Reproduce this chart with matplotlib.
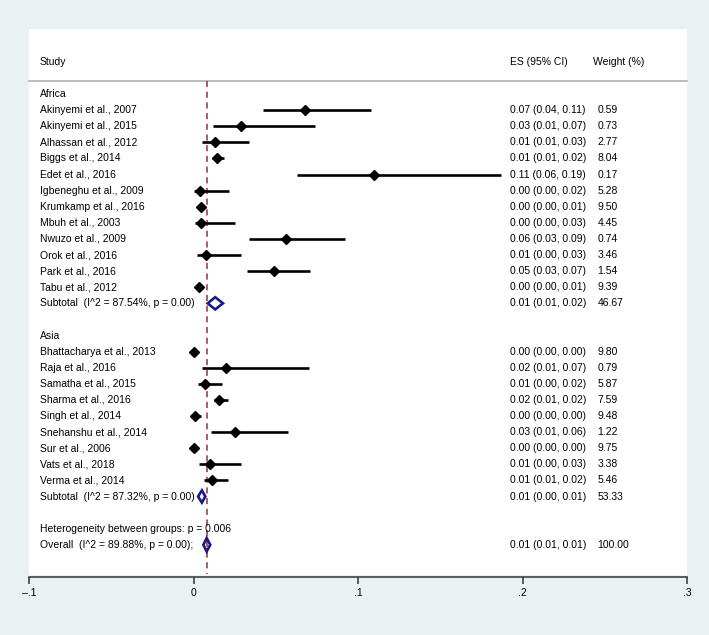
import matplotlib
matplotlib.use("Agg")
import matplotlib.pyplot as plt
from matplotlib.patches import Polygon
import matplotlib.transforms as mtransforms

plt.rcParams['font.family'] = ['Liberation Sans', 'DejaVu Sans']

# study level data
africa_studies = ["Akinyemi et al., 2007", "Akinyemi et al., 2015", "Alhassan et al., 2012",
                  "Biggs et al., 2014", "Edet et al., 2016", "Igbeneghu et al., 2009",
                  "Krumkamp et al., 2016", "Mbuh et al., 2003", "Nwuzo et al., 2009",
                  "Orok et al., 2016", "Park et al., 2016", "Tabu et al., 2012"]
africa_es = [0.0678, 0.0290, 0.0132, 0.0145, 0.1100, 0.0037, 0.0047, 0.0043, 0.0560, 0.0077, 0.0490, 0.0031]
africa_lo = [0.0420, 0.0117, 0.0051, 0.0112, 0.0627, 0.0006, 0.0032, 0.0008, 0.0338, 0.0020, 0.0327, 0.0015]
africa_hi = [0.1080, 0.0740, 0.0336, 0.0185, 0.1870, 0.0216, 0.0060, 0.0252, 0.0918, 0.0287, 0.0709, 0.0052]
africa_w = [0.59, 0.73, 2.77, 8.04, 0.17, 5.28, 9.50, 4.45, 0.74, 3.46, 1.54, 9.39]

asia_studies = ["Bhattacharya et al., 2013", "Raja et al., 2016", "Samatha et al., 2015",
                "Sharma et al., 2016", "Singh et al., 2014", "Snehanshu et al., 2014",
                "Sur et al., 2006", "Vats et al., 2018", "Verma et al., 2014"]
asia_es = [0.0002, 0.0200, 0.0069, 0.0155, 0.0008, 0.0252, 0.0004, 0.0098, 0.0112]
asia_lo = [0.0000, 0.0053, 0.0029, 0.0122, 0.0003, 0.0108, 0.0000, 0.0032, 0.0061]
asia_hi = [0.0006, 0.0700, 0.0173, 0.0210, 0.0048, 0.0572, 0.0009, 0.0287, 0.0210]
asia_w = [9.80, 0.79, 5.87, 7.59, 9.48, 1.22, 9.75, 3.38, 5.46]

# pooled estimates
group_names = ["Africa", "Asia"]
sub_es = [0.0132, 0.0051]
sub_lo = [0.0086, 0.0028]
sub_hi = [0.0179, 0.0072]
sub_w = [46.67, 53.33]
sub_i2 = [87.54, 87.32]
overall_es, overall_lo, overall_hi = 0.0080, 0.0060, 0.0102
overall_i2 = 89.88
het_p = "0.006"
xticks = [-0.1, 0, 0.1, 0.2, 0.3]
xtick_labels = ["\u2013.1", "0", ".1", ".2", ".3"]

BG = "#e9f1f3"
NAVY = "#1a1a86"
RED = "#9b2f35"
FS = 7.5

fig = plt.figure(figsize=(7.09, 6.35), dpi=100, facecolor=BG)
ax = fig.add_axes([29 / 709, 58 / 635, 658 / 709, 548 / 635])
ax.set_facecolor(BG)
ax.set_xlim(-0.1, 0.3)
ax.set_ylim(30.0, -4.04)
ax.axhspan(-4.04, 29.8, color="white", zorder=0)

tr = mtransforms.blended_transform_factory(ax.transAxes, ax.transData)
x_study, x_es, x_w, x_wh = 0.0167, 0.731, 0.864, 0.857


def es_text(e, l, h):
    return f"{e:.2f} ({l:.2f}, {h:.2f})"


def diamond(center, lo, hi, row, half=0.38):
    ax.add_patch(Polygon([(lo, row), (center, row - half), (hi, row), (center, row + half)],
                         closed=True, fill=False, edgecolor=NAVY, linewidth=1.9, zorder=4))


# header
ax.text(x_study, -2, "Study", transform=tr, fontsize=FS, va="center")
ax.text(x_es, -2, "ES (95% CI)", transform=tr, fontsize=FS, va="center")
ax.text(x_wh, -2, "Weight (%)", transform=tr, fontsize=FS, va="center")
ax.plot([0, 1], [-0.8, -0.8], transform=tr, color="#a9a9a9", lw=1.1, clip_on=False)

groups = [(africa_studies, africa_es, africa_lo, africa_hi, africa_w),
          (asia_studies, asia_es, asia_lo, asia_hi, asia_w)]
row = 0
for g, (names, es, lo, hi, w) in enumerate(groups):
    ax.text(x_study, row, group_names[g], transform=tr, fontsize=FS, va="center")
    row += 1
    for i in range(len(names)):
        ax.plot([lo[i], hi[i]], [row, row], color="black", lw=1.9, solid_capstyle="butt", zorder=3)
        ax.plot(es[i], row, marker="D", color="black", markersize=4.6, zorder=4)
        ax.text(x_study, row, names[i], transform=tr, fontsize=FS, va="center")
        ax.text(x_es, row, es_text(es[i], lo[i], hi[i]), transform=tr, fontsize=FS, va="center")
        ax.text(x_w, row, f"{w[i]:.2f}", transform=tr, fontsize=FS, va="center")
        row += 1
    ax.text(x_study, row, f"Subtotal  (I^2 = {sub_i2[g]:.2f}%, p = 0.00)", transform=tr,
            fontsize=FS, va="center")
    diamond(sub_es[g], sub_lo[g], sub_hi[g], row)
    ax.text(x_es, row, es_text(sub_es[g], sub_lo[g], sub_hi[g]), transform=tr, fontsize=FS, va="center")
    ax.text(x_w, row, f"{sub_w[g]:.2f}", transform=tr, fontsize=FS, va="center")
    row += 2

ax.text(x_study, row, f"Heterogeneity between groups: p = {het_p}", transform=tr, fontsize=FS,
        va="center", zorder=5)
row += 1
ax.text(x_study, row, f"Overall  (I^2 = {overall_i2:.2f}%, p = 0.00);", transform=tr,
        fontsize=FS, va="center")
diamond(overall_es, overall_lo, overall_hi, row, half=0.42)
ax.text(x_es, row, es_text(overall_es, overall_lo, overall_hi), transform=tr, fontsize=FS, va="center")
ax.text(x_w, row, f"{100:.2f}", transform=tr, fontsize=FS, va="center")

# overall effect reference line
ax.plot([overall_es, overall_es], [-0.8, 29.8], color=RED, lw=1.1, dashes=(4, 3), zorder=2)

for s in ["top", "left", "right"]:
    ax.spines[s].set_visible(False)
ax.spines["bottom"].set_color("#333333")
ax.spines["bottom"].set_linewidth(1.1)
ax.set_yticks([])
ax.set_xticks(xticks)
ax.set_xticklabels(xtick_labels)
ax.tick_params(axis="x", direction="out", length=5, width=1.1, color="#333333",
               labelsize=FS, pad=3)

fig.savefig("out.png", dpi=100, facecolor=BG)
